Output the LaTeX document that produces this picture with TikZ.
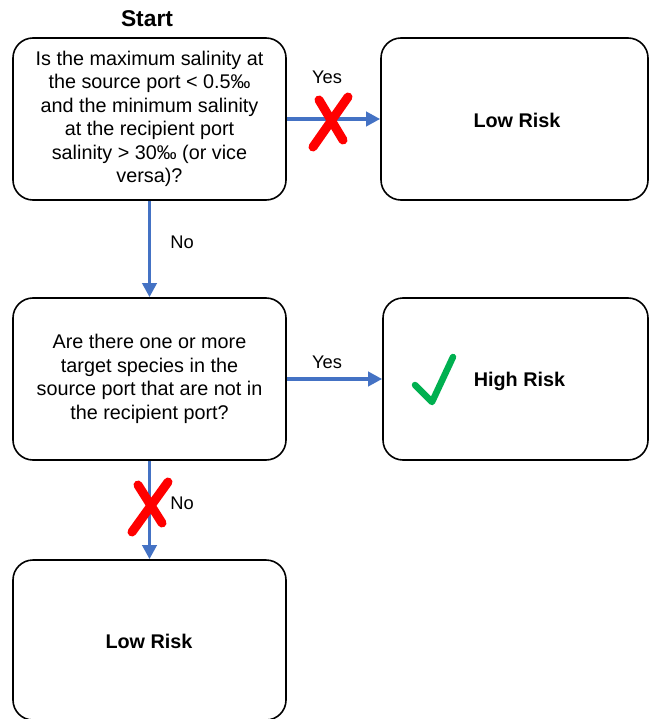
\documentclass[tikz,border=0pt]{standalone}
\usepackage{fontspec}
\setmainfont{Liberation Sans}
\usetikzlibrary{arrows.meta,calc}
\definecolor{arrowblue}{HTML}{4472C4}
\definecolor{xred}{HTML}{FF0000}
\definecolor{tickgreen}{HTML}{00B050}
\tikzset{
  box/.style={draw=black, line width=1.6pt, rounded corners=20pt, inner sep=0pt, align=center,
    font=\fontsize{19.8}{23.5}\selectfont},
  bigtxt/.style={font=\fontsize{19.8}{23.5}\selectfont\bfseries, inner sep=0pt},
  lbl/.style={font=\fontsize{18.3}{22}\selectfont, inner sep=0pt},
  flow/.style={draw=arrowblue, line width=3.5pt, -{Triangle[length=14pt,width=14pt]}},
  crossmark/.style={draw=xred, line width=9pt, line cap=round},
  tickmark/.style={draw=tickgreen, line width=6.5pt, line cap=round, line join=round},
}
\begin{document}
\begin{tikzpicture}[x=1pt,y=-1pt]
\useasboundingbox (0,0) rectangle (649,719);
\clip (0,0) rectangle (649,719);
\fill[white] (0,0) rectangle (649,719);

\node[font=\fontsize{22.8}{26}\selectfont\bfseries, inner sep=0pt] (start) at (147,19) {Start};

\node[box, minimum width=273pt, minimum height=162pt] (q1) at (149.5,119)
  {Is the maximum salinity at\\the source port < 0.5‰\\and the minimum salinity\\at the recipient port\\salinity > 30‰ (or vice\\versa)?};
\node[box, minimum width=267pt, minimum height=162pt] (lr1) at (514.5,119) {};
\node[bigtxt] (lr1t) at (517,120) {Low Risk};

\node[box, minimum width=273pt, minimum height=162pt] (q2) at (149.5,379)
  {Are there one or more\\target species in the\\source port that are not in\\the recipient port?};
\node[box, minimum width=265pt, minimum height=162pt] (hr) at (515.5,379) {};
\node[bigtxt] (hrt) at (519.5,381) {High Risk};

\node[box, minimum width=273pt, minimum height=160pt] (lr2) at (149.5,640) {};
\node[bigtxt] (lr2t) at (149,641) {Low Risk};

% connectors
\draw[flow] (q1.east) -- (lr1.west);
\draw[flow] (q1.south) -- (q2.north);
\draw[flow] (q2.east) -- (hr.west);
\draw[flow] (q2.south) -- (lr2.north);

% labels
\node[lbl] (yes1) at (327,77) {Yes};
\node[lbl] (no1) at (182,242) {No};
\node[lbl] (yes2) at (327,362) {Yes};
\node[lbl] (no2) at (182,503) {No};

% red crosses
\coordinate (x1) at (330,121);
\draw[crossmark] ($(x1)+(-11,-21)$) -- ($(x1)+(13,19)$);
\draw[crossmark] ($(x1)+(18,-24)$) -- ($(x1)+(-17,26)$);
\coordinate (x2) at (150,507);
\draw[crossmark] ($(x2)+(-12,-22)$) -- ($(x2)+(12,16)$);
\draw[crossmark] ($(x2)+(18,-25)$) -- ($(x2)+(-18,25)$);

% green tick
\coordinate (tk) at (432,402);
\draw[tickmark] ($(tk)+(-17,-17)$) -- (tk) -- ($(tk)+(21,-45)$);
\end{tikzpicture}
\end{document}
